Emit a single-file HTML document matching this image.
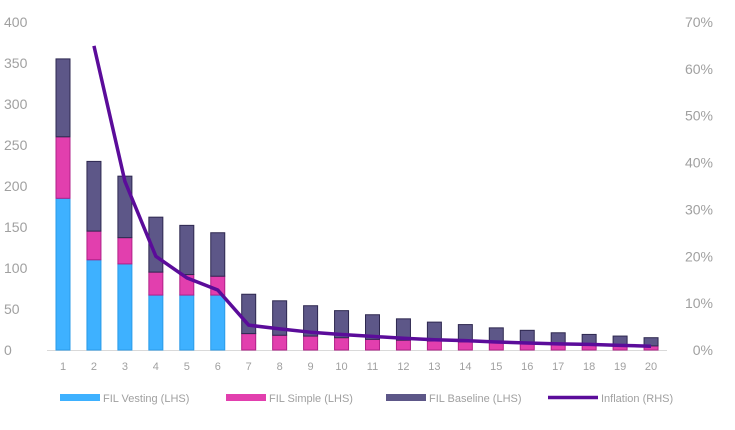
<!DOCTYPE html>
<html><head><meta charset="utf-8"><style>
body{margin:0;background:#fff;width:735px;height:425px;overflow:hidden}
svg text{font-family:"Liberation Sans",sans-serif;fill:#a0a0a0}
</style></head><body>
<svg id="chart" width="735" height="425" xmlns="http://www.w3.org/2000/svg"></svg>
<script>
const categories=[1,2,3,4,5,6,7,8,9,10,11,12,13,14,15,16,17,18,19,20];
const vesting=[185,110,105,67,67,67,0,0,0,0,0,0,0,0,0,0,0,0,0,0];
const simple=[75,35,32,28,25,23,20,18,17,15,13,12,11,10,9,8,7,6,5,5];
const baseline=[95,85,75,67,60,53,48,42,37,33,30,26,23,21,18,16,14,13,12,10];
const inflation=[null,64.9,36,20,15.4,12.8,5.3,4.5,3.8,3.3,2.9,2.5,2.2,2.0,1.7,1.5,1.3,1.2,1.0,0.8];
const leftTicks=[0,50,100,150,200,250,300,350,400];
const rightTicks=[0,10,20,30,40,50,60,70];
const svg=document.getElementById('chart');
const NS='http://www.w3.org/2000/svg';
const y0=350,yTop=22;
const yL=v=>y0-v/400*(y0-yTop);
const yR=v=>y0-v/70*(y0-yTop);
const xC=i=>63+i*30.95;
function mk(t,a,txt){const e=document.createElementNS(NS,t);for(const k in a)e.setAttribute(k,a[k]);if(txt!==undefined)e.textContent=txt;svg.appendChild(e);return e;}
leftTicks.forEach(t=>{const e=mk('text',{x:4,y:yL(t)+5,'font-size':14},t);

});
rightTicks.forEach(t=>{const e=mk('text',{x:713,y:yR(t)+5,'font-size':14,'text-anchor':'end'},t+'%');

});
const ax=mk('line',{x1:47,x2:667,y1:y0+0.5,y2:y0+0.5,stroke:'#d9d9d9','stroke-width':1});


const bw=14;
categories.forEach((c,i)=>{
 const x=xC(i)-bw/2;
 const lab=mk('text',{x:xC(i),y:370,'font-size':11,'text-anchor':'middle'},c);
 
 
 let base=0;
 [[vesting,'#3eb1ff','#2a9be8','bar-vesting'],[simple,'#e23fae','#b02088','bar-simple'],[baseline,'#5d5788','#2e2850','bar-baseline']].forEach(([arr,f,s,n])=>{
  const v=arr[i];if(!v)return;
  const r=mk('rect',{x:x,y:yL(base+v),width:bw,height:yL(base)-yL(base+v),fill:f,stroke:s,'stroke-width':1});
  
  
  base+=v;
 });
});
let d='';inflation.forEach((v,i)=>{if(v==null)return;d+=(d?'L':'M')+xC(i)+','+yR(v);});
const ln=mk('path',{d:d,fill:'none',stroke:'#5b0c9a','stroke-width':3.5,'stroke-linejoin':'round'});


const leg=[['rect','#3eb1ff','FIL Vesting (LHS)',60],['rect','#e23fae','FIL Simple (LHS)',226],['rect','#5d5788','FIL Baseline (LHS)',386],['line','#5b0c9a','Inflation (RHS)',548]];
leg.forEach(([t,c,label,x])=>{
 let m;
 if(t==='rect')m=mk('rect',{x:x,y:394,width:40,height:7,fill:c});
 else m=mk('line',{x1:x,x2:x+50,y1:397.5,y2:397.5,stroke:c,'stroke-width':3.5});
 
 
 const tx=mk('text',{x:x+(t==='rect'?43:53),y:402,'font-size':11},label);
 
 
});
</script>
</body></html>
